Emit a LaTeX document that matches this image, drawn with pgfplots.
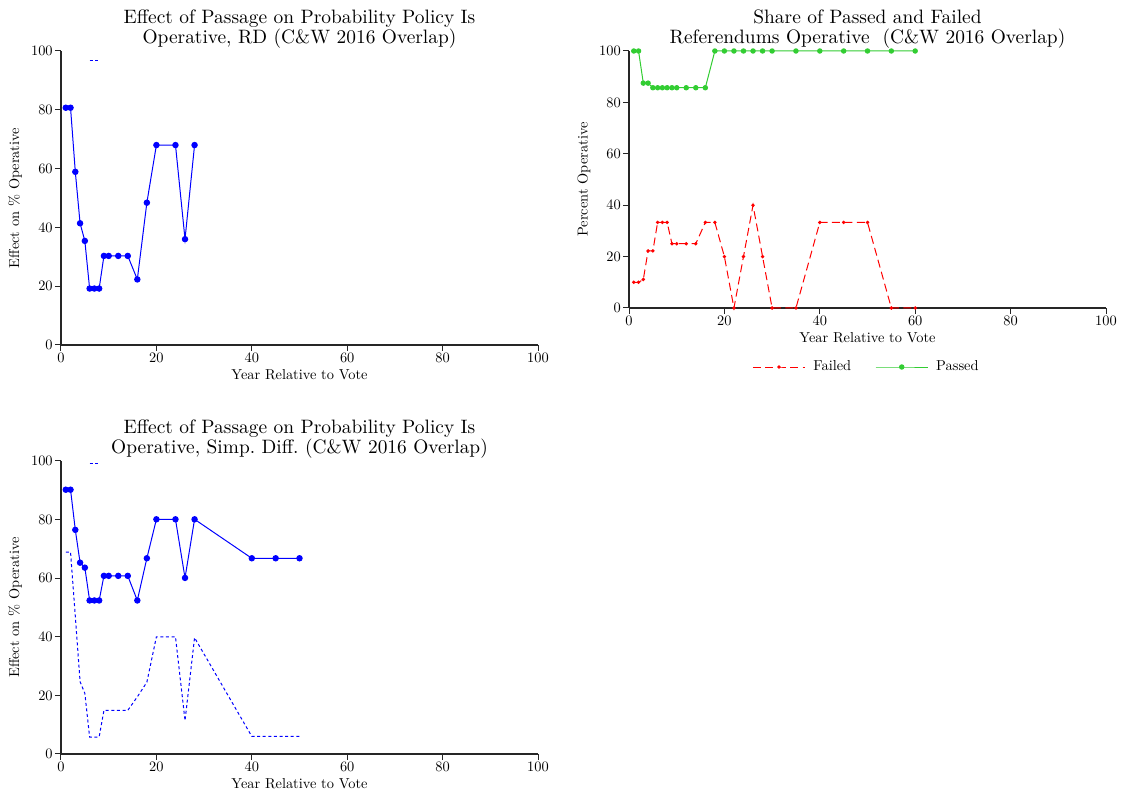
\documentclass[border=0pt]{standalone}
\usepackage{graphicx}
\usepackage{pgfplots}
\pgfplotsset{compat=1.18}
\definecolor{pgreen}{RGB}{50,205,50}
\definecolor{pblue}{RGB}{0,0,255}
\definecolor{pred}{RGB}{255,0,0}
\newcommand\sm[1]{\scalebox{0.72}{#1}}
\pgfplotsset{
  base/.style={
    scale only axis, width=238.5pt,
    xmin=0, xmax=100, ymin=0, ymax=100,
    axis x line*=bottom, axis y line*=left,
    axis line style={line width=0.6pt, black!85},
    xtick={0,20,...,100}, ytick={0,20,...,100},
    tick align=outside, major tick length=3pt,
    tick style={line width=0.5pt, black!85},
    tick label style={scale=0.72, inner sep=1.4pt},
    every axis x label/.style={at={(axis description cs:0.5,0)}, anchor=center, yshift=-15pt, scale=0.72},
    every axis title/.style={at={(axis description cs:0.5,1)}, anchor=south, align=center, inner sep=0pt, yshift=1.3pt, font=\fontsize{9.7}{10}\selectfont},
    clip=false,
  },
  est/.style={pblue, line width=0.5pt, mark=*, mark size=1.35pt, mark options={solid}},
  ci/.style={pblue, line width=0.5pt, dash pattern=on 1.5pt off 1.3pt, no markers},
}
\begin{document}
\begin{tikzpicture}
\useasboundingbox (0pt,0pt) rectangle (562pt,-397.5pt);
% Top-left
\begin{axis}[base, at={(30.5pt,-172.5pt)}, anchor=south west, height=147pt,
  title={Effect of Passage on Probability Policy Is\\Operative, RD (C\&W 2016 Overlap)},
  xlabel={Year Relative to Vote}, ylabel={Effect on \% Operative},
  every axis y label/.style={at={(axis description cs:-0.0964,0.5)}, rotate=90, anchor=center, scale=0.72}]
\addplot[est] coordinates {(1,80.7)(2,80.7)(3,58.9)(4,41.4)(5,35.4)(6,19.2)(7,19.2)(8,19.2)(9,30.3)(10,30.3)(12,30.3)(14,30.3)(16,22.3)(18,48.4)(20,68.0)(24,68.0)(26,36.0)(28,68.0)};
\addplot[ci] coordinates {(6,96.9)(7,96.9)(8,96.9)};
\end{axis}
% Top-right
\begin{axis}[base, at={(314.5pt,-154pt)}, anchor=south west, height=128.5pt,
  title={Share of Passed and Failed\\Referendums Operative\ \ (C\&W 2016 Overlap)},
  xlabel={Year Relative to Vote}, ylabel={Percent Operative},
  every axis y label/.style={at={(axis description cs:-0.0943,0.5)}, rotate=90, anchor=center, scale=0.72},
  legend columns=2,
  legend style={draw=none, fill=none, at={(axis description cs:0.5,-0.2296)}, anchor=center,
    inner sep=0pt,
    /tikz/every odd column/.append style={column sep=2pt},
    /tikz/every even column/.append style={column sep=10pt}},
  legend image code/.code={\draw[mark repeat=2, mark phase=2, #1] plot coordinates {(0pt,0pt) (13pt,0pt) (26pt,0pt)};}]
\addplot[pred, line width=0.5pt, dash pattern=on 4pt off 2.2pt, mark=*, mark size=0.6pt, mark options={solid}] coordinates {(1,10)(2,10)(3,11.1)(4,22.2)(5,22.2)(6,33.3)(7,33.3)(8,33.3)(9,25)(10,25)(12,25)(14,25)(16,33.3)(18,33.3)(20,20)(22,0)(24,20)(26,40)(28,20)(30,0)(35,0)(40,33.3)(45,33.3)(50,33.3)(55,0)(60,0)};
\addlegendentry{\sm{Failed}}
\addplot[pgreen, line width=0.5pt, mark=*, mark size=1.1pt] coordinates {(1,100)(2,100)(3,87.5)(4,87.5)(5,85.7)(6,85.7)(7,85.7)(8,85.7)(9,85.7)(10,85.7)(12,85.7)(14,85.7)(16,85.7)(18,100)(20,100)(22,100)(24,100)(26,100)(28,100)(30,100)(35,100)(40,100)(45,100)(50,100)(55,100)(60,100)};
\addlegendentry{\sm{Passed}}
\end{axis}
% Bottom-left
\begin{axis}[base, at={(30.5pt,-377pt)}, anchor=south west, height=146.5pt,
  title={Effect of Passage on Probability Policy Is\\Operative, Simp.\ Diff.\ (C\&W 2016 Overlap)},
  xlabel={Year Relative to Vote}, ylabel={Effect on \% Operative},
  every axis y label/.style={at={(axis description cs:-0.0964,0.5)}, rotate=90, anchor=center, scale=0.72}]
\addplot[est] coordinates {(1,90.2)(2,90.2)(3,76.5)(4,65.3)(5,63.6)(6,52.4)(7,52.4)(8,52.4)(9,60.8)(10,60.8)(12,60.8)(14,60.8)(16,52.4)(18,66.8)(20,80.1)(24,80.1)(26,60.1)(28,80.1)(40,66.8)(45,66.8)(50,66.8)};
\addplot[ci] coordinates {(1,68.9)(2,68.9)(3,47)(4,24.7)(5,20.7)(6,5.8)(7,5.8)(8,5.8)(9,14.9)(10,14.9)(12,14.9)(14,14.9)(16,19.5)(18,24.5)(20,40)(24,40)(26,11.4)(28,39.7)(40,6)(45,6)(50,6)};
\addplot[ci] coordinates {(6,99)(7,99)(8,99)};
\end{axis}
\end{tikzpicture}
\end{document}
